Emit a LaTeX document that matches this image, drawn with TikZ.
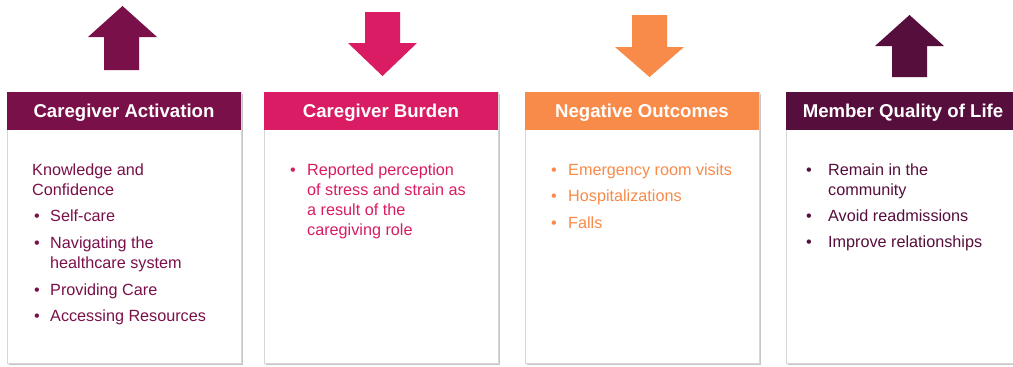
\documentclass[tikz,border=0pt]{standalone}
\usepackage{fontspec}
\setmainfont{Liberation Sans}
\definecolor{cact}{HTML}{7A1049}
\definecolor{cbur}{HTML}{D91C63}
\definecolor{cneg}{HTML}{F88B4A}
\definecolor{cmem}{HTML}{560E3C}
\begin{document}
\begin{tikzpicture}[x=1bp,y=-1bp,
  body/.style={anchor=base west, inner sep=0pt, font=\fontsize{16.2bp}{20bp}\selectfont},
  head/.style={anchor=base, inner sep=0pt, text=white, font=\fontsize{18.6bp}{22bp}\selectfont\bfseries},
  panel/.style={draw=black!16, line width=0.8bp, fill=white, anchor=north west, minimum width=234bp, minimum height=271bp, inner sep=0pt},
  headbar/.style={anchor=north west, minimum width=234bp, minimum height=38bp, inner sep=0pt},
  shade/.style={fill=black!22}]
\useasboundingbox (0,0) rectangle (1013,366);
\fill[white] (0,0) rectangle (1013,366);

% shadows
\foreach \x in {7,264,525,786}{
  \fill[shade] (\x+1.5,93.5) rectangle (\x+235.5,364.5);
}

% panels
\node[panel] (p1) at (7,92) {};
\node[panel] (p2) at (264,92) {};
\node[panel] (p3) at (525,92) {};
\node[panel] (p4) at (786,92) {};

% header bars
\node[headbar, fill=cact] (h1) at (7,92) {};
\node[headbar, fill=cbur] (h2) at (264,92) {};
\node[headbar, fill=cneg] (h3) at (525,92) {};
\node[headbar, fill=cmem] (h4) at (786,92) {};

\node[head] (t1) at (124,117.6) {Caregiver Activation};
\node[head] (t2) at (381,117.6) {Caregiver Burden};
\node[head] (t3) at (642,117.6) {Negative Outcomes};
\node[head] (t4) at (903,117.6) {Member Quality of Life};

% arrows
\fill[cact] (104,70) -- (104,37) -- (88,37) -- (122.5,6) -- (157,37) -- (139,37) -- (139,70) -- cycle;
\fill[cbur] (365,12) -- (400,12) -- (400,43) -- (417,43) -- (382.5,76) -- (348,43) -- (365,43) -- cycle;
\fill[cneg] (632,15) -- (667,15) -- (667,47) -- (684,47) -- (649.5,77) -- (615,47) -- (632,47) -- cycle;
\fill[cmem] (892,77) -- (892,46) -- (875,46) -- (909.5,15) -- (944,46) -- (927,46) -- (927,77) -- cycle;

% panel 1 text
\begin{scope}[every node/.append style={text=cact}]
\node[body] (a0) at (32,175) {Knowledge and};
\node[body] (a0b) at (32,195) {Confidence};
\node[body] (ab1) at (34,221) {•};
\node[body] (a1) at (50,221) {Self-care};
\node[body] (ab2) at (34,248) {•};
\node[body] (a2) at (50,248) {Navigating the};
\node[body] (a2b) at (50,268) {healthcare system};
\node[body] (ab3) at (34,295) {•};
\node[body] (a3) at (50,295) {Providing Care};
\node[body] (ab4) at (34,321) {•};
\node[body] (a4) at (50,321) {Accessing Resources};
\end{scope}

% panel 2 text
\begin{scope}[every node/.append style={text=cbur}]
\node[body] (bb1) at (290,175) {•};
\node[body] (b1) at (307,175) {Reported perception};
\node[body] (b1b) at (307,195) {of stress and strain as};
\node[body] (b1c) at (307,215) {a result of the};
\node[body] (b1d) at (307,235) {caregiving role};
\end{scope}

% panel 3 text
\begin{scope}[every node/.append style={text=cneg}]
\node[body] (cb1) at (551,175) {•};
\node[body] (c1) at (568,175) {Emergency room visits};
\node[body] (cb2) at (551,201.5) {•};
\node[body] (c2) at (568,201.5) {Hospitalizations};
\node[body] (cb3) at (551,228) {•};
\node[body] (c3) at (568,228) {Falls};
\end{scope}

% panel 4 text
\begin{scope}[every node/.append style={text=cmem}]
\node[body] (db1) at (806,175) {•};
\node[body] (d1) at (828,175) {Remain in the};
\node[body] (d1b) at (828,195) {community};
\node[body] (db2) at (806,221) {•};
\node[body] (d2) at (828,221) {Avoid readmissions};
\node[body] (db3) at (806,247) {•};
\node[body] (d3) at (828,247) {Improve relationships};
\end{scope}
\end{tikzpicture}
\end{document}
